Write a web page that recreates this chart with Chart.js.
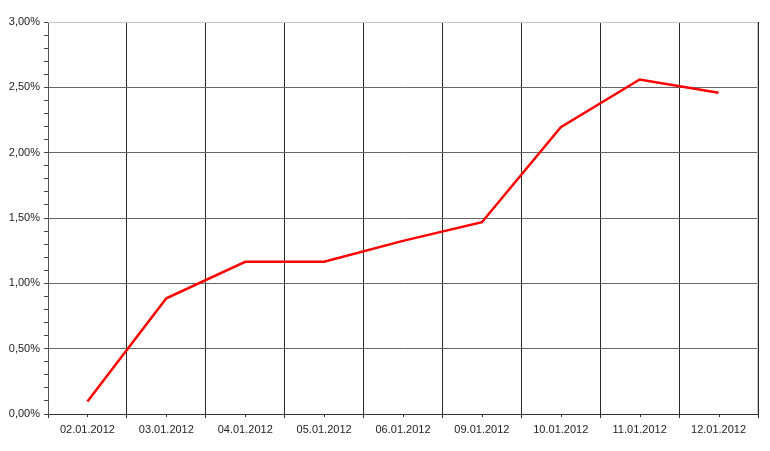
<!DOCTYPE html>
<html>
<head>
<meta charset="utf-8">
<script src="https://cdn.jsdelivr.net/npm/chart.js@4"></script>
<style>
  html, body { margin: 0; padding: 0; background: #fff; }
  #wrap { width: 770px; height: 451px; position: relative; }
</style>
</head>
<body>
<div id="wrap"><canvas id="rate"></canvas></div>
<script>
const dates = [
  "02.01.2012",
  "03.01.2012",
  "04.01.2012",
  "05.01.2012",
  "06.01.2012",
  "09.01.2012",
  "10.01.2012",
  "11.01.2012",
  "12.01.2012",
];
const rates = [0.096, 0.885, 1.165, 1.165, 1.325, 1.468, 2.195, 2.56, 2.458];
const yMin = 0;
const yMax = 3;

// small ticks under the x axis at the category centres + light frame top/right
const extras = {
  id: "extras",
  beforeDatasetsDraw(chart) {
    const { ctx, chartArea: a, scales } = chart;
    ctx.save();
    ctx.strokeStyle = "#c8c8c8";
    ctx.lineWidth = 1;
    ctx.beginPath();
    ctx.moveTo(a.left, a.top + 0.5);
    ctx.lineTo(a.right - 0.5, a.top + 0.5);
    ctx.lineTo(a.right - 0.5, a.bottom);
    ctx.stroke();
    ctx.strokeStyle = "#333";
    ctx.beginPath();
    dates.forEach((d, i) => {
      const x = Math.round(scales.x.getPixelForValue(i)) + 0.5;
      ctx.moveTo(x, a.bottom);
      ctx.lineTo(x, a.bottom + 3);
    });
    ctx.stroke();
    ctx.restore();
  },
};

const rate = document.getElementById("rate").getContext("2d");

let rateChart = new Chart(rate, {
  type: "line",
  data: {
    labels: dates,
    datasets: [
      {
        label: "rate",
        data: rates,
        tension: 0,
        borderColor: "#ff0000",
        backgroundColor: "#ff0000",
        borderWidth: 2.5,
      },
    ],
  },
  plugins: [extras],
  options: {
    animation: false,
    responsive: true,
    maintainAspectRatio: false,
    elements: {
      point: {
        radius: 0,
      },
    },
    layout: {
      padding: { top: 22, right: 12, bottom: 0, left: 0 },
    },
    plugins: {
      legend: { display: false },
      tooltip: { enabled: false },
    },
    scales: {
      x: {
        offset: true,
        afterFit: (s) => { s.height = 37; },
        grid: {
          offset: true,
          color: "#2a2a2a",
          tickColor: "#2a2a2a",
          tickLength: 4,
        },
        border: { color: "#333" },
        ticks: {
          color: "#222",
          padding: 5,
          maxRotation: 0,
          autoSkip: false,
          font: { family: "'Liberation Sans', Arial", size: 11 },
        },
      },
      y: {
        min: yMin,
        max: yMax,
        afterFit: (s) => { s.width = 48; },
        grid: {
          color: (c) => (Math.round(c.tick.value * 10) % 5 === 0 ? "#666" : "rgba(0,0,0,0)"),
          tickColor: "#444",
          tickLength: 4,
        },
        border: { color: "#555" },
        ticks: {
          stepSize: 0.1,
          autoSkip: false,
          color: "#222",
          padding: 4,
          font: { family: "'Liberation Sans', Arial", size: 11 },
          callback: function (value) {
            if (Math.round(value * 10) % 5 !== 0) return "";
            return value.toFixed(2).replace(".", ",") + "%";
          },
        },
      },
    },
  },
});
</script>
</body>
</html>
